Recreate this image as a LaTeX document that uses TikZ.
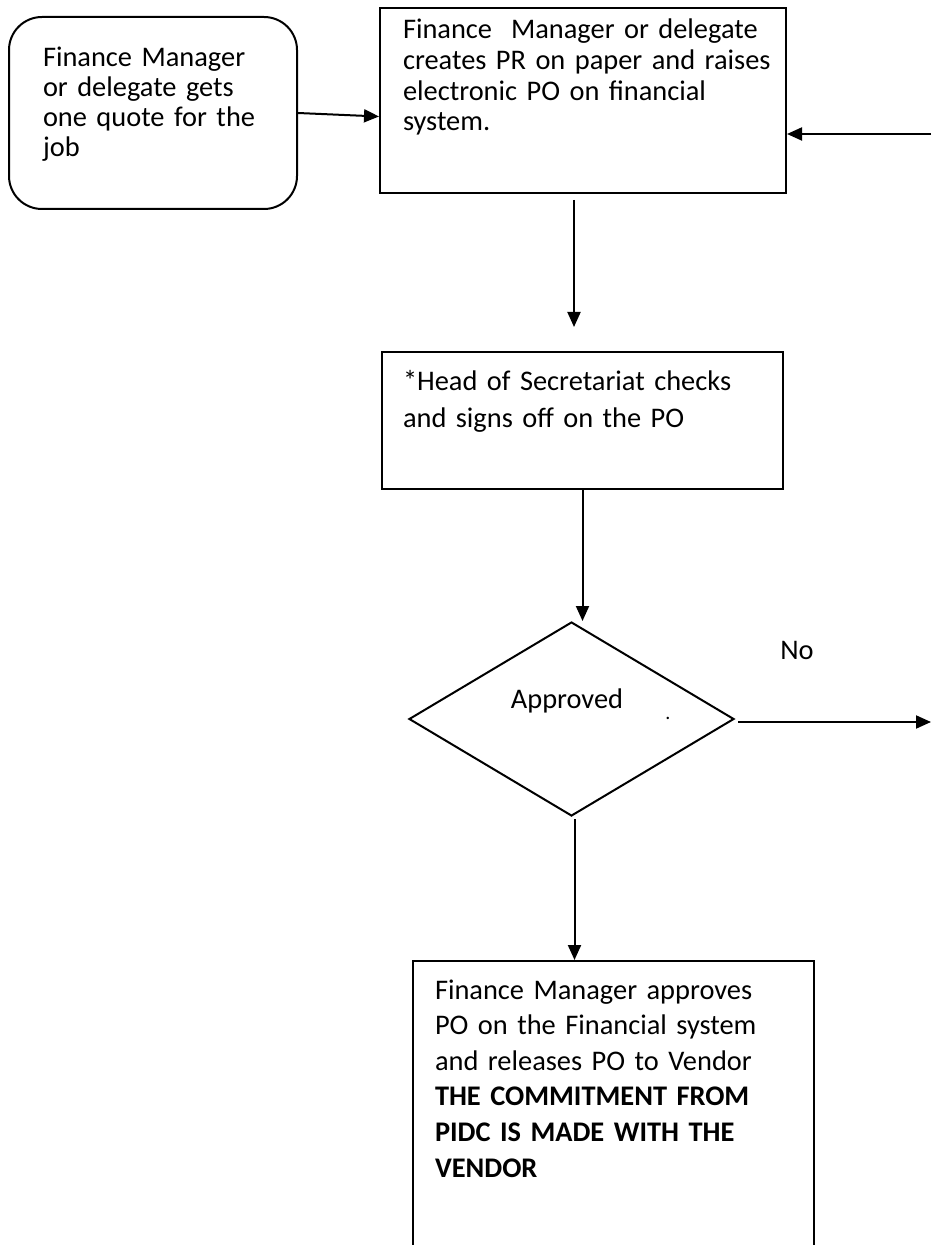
\documentclass[tikz,border=0pt]{standalone}
\usepackage{fontspec}
\setmainfont{Carlito}
\usetikzlibrary{arrows.meta,shapes.geometric}

\begin{document}
\begin{tikzpicture}[x=0.5pt,y=-0.5pt,line width=1pt,
	box/.style={rectangle,draw,inner sep=0pt},
	txt/.style={anchor=base west,inner sep=0pt,text width=200pt,align=left,font=\fontsize{14.2}{15}\selectfont}]
	\clip (0,0) rectangle (931,1245);
	% steps
	\node (quote) at (153,113) [box,rounded corners=16.5pt,minimum width=144pt,minimum height=96pt] {};
	\node (create) at (583,100.5) [box,minimum width=203pt,minimum height=92.5pt] {};
	\node (check) at (582.5,420.5) [box,minimum width=200.5pt,minimum height=68.5pt] {};
	\node (approve) at (571.5,719) [diamond,draw,inner sep=0pt,minimum width=162.5pt,minimum height=97pt] {};
	\node (release) at (613.5,1113) [box,minimum width=200.5pt,minimum height=152pt] {};
	% texts
	\node (quotetxt) at (42,67) [txt] {Finance Manager\\or delegate gets\\one quote for the\\job};
	\node (createtxt) at (402,39) [txt,font=\fontsize{14.2}{15.3}\selectfont] {Finance\ \ Manager or delegate\\creates PR on paper and raises\\electronic PO on financial\\system.};
	\node (checktxt) at (402,391) [txt,font=\fontsize{14.2}{18}\selectfont] {*Head of Secretariat checks\\and signs off on the PO};
	\node (approvetxt) at (567,708) [anchor=base,inner sep=0pt,font=\fontsize{14.2}{15}\selectfont] {Approved};
	\node (dot) at (668,719) [anchor=base,inner sep=0pt,font=\fontsize{10}{12}\selectfont] {.};
	\node (no) at (797,659) [anchor=base,inner sep=0pt,font=\fontsize{14.2}{15}\selectfont] {No};
	\node (releasetxt) at (434,999) [txt,font=\fontsize{14.2}{17.8}\selectfont] {Finance Manager approves\\PO on the Financial system\\and releases PO to Vendor\\\textbf{THE COMMITMENT FROM}\\\textbf{PIDC IS MADE WITH THE}\\\textbf{VENDOR}};
	% free ends at the right edge
	\coordinate (back) at (931,134);
	\coordinate (reject) at (931,722);
	% connectors
	\draw [-{Triangle[length=7.5pt,width=6.5pt]}] (quote.east) -- ([yshift=-8pt]create.west);
	\draw [-{Triangle[length=7.5pt,width=6.5pt]}] (back) -- (back -| create.east);
	\draw [-{Triangle[length=7.5pt,width=6.5pt]}] ([xshift=-4.5pt,yshift=-3pt]create.south) -- ([xshift=-4.25pt,yshift=12pt]check.north);
	\draw [-{Triangle[length=7.5pt,width=6.5pt]}] (check.south) -- (check.south |- approve.north);
	\draw [-{Triangle[length=7.5pt,width=6.5pt]}] ([xshift=1.5pt,yshift=-1.5pt]approve.east) -- (reject);
	\draw [-{Triangle[length=7.5pt,width=6.5pt]}] ([xshift=1.5pt,yshift=-1pt]approve.south) -- ([xshift=1.5pt]approve.south |- release.north);
\end{tikzpicture}
\end{document}
